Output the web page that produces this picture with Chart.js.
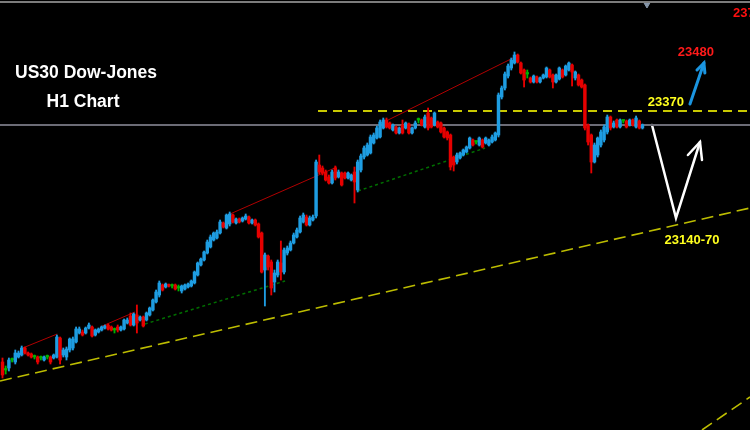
<!DOCTYPE html>
<html><head><meta charset="utf-8">
<script src="https://cdn.jsdelivr.net/npm/chart.js@4.4.1/dist/chart.umd.min.js"></script>
<style>html,body{margin:0;padding:0;background:#000;overflow:hidden}canvas{display:block}</style>
</head><body>
<canvas id="c" width="750" height="430"></canvas>
<script>
// ---- H1 candles (US30) ----
const open=[22868,22852,22856,22872,22868,22878,22882,22896,22886,22884,
22878,22878,22876,22872,22878,22878,22876,22878,22916,22882,
22878,22892,22896,22908,22926,22928,22926,22936,22938,22922,
22928,22932,22936,22942,22938,22932,22938,22932,22934,22946,
22960,22942,22962,22952,22958,22952,22962,22972,22988,
23002,23022,23018,23022,23020,23022,23016,23010,23014,23018,
23020,23026,23042,23062,23072,23086,23098,23112,23116,23126,
23146,23136,23144,23162,23146,23154,23150,23154,23158,23146,
23152,23144,23126,23052,23080,23068,23028,23042,23066,23048,
23086,23092,23106,23118,23128,23148,23158,23142,23152,23160,
23262,23256,23248,23238,23226,23256,23238,23246,23246,23236,
23232,23248,23212,23252,23278,23282,23286,23306,23316,23318,
23336,23352,23346,23332,23338,23326,23342,23336,23344,23326,
23336,23352,23352,23338,23366,23356,23342,23348,23346,23336,
23328,23322,23278,23268,23276,23282,23288,23296,23312,23308,
23302,23312,23306,23302,23308,23312,23322,
23398,23416,23440,23456,23466,23482,23466,23452,23444,23436,
23428,23438,23428,23436,23438,23452,23442,23428,23434,23452,
23442,23452,23462,23436,23442,23432,23422,23342,23322,23268,
23282,23302,23312,23328,23358,23338,23352,23338,23350,23350,
23342,23352,23338,23350,23336];
const high=[22876,22860,22876,22876,22892,22890,22900,22898,22888,22886,
22882,22880,22880,22880,22882,22880,22884,22922,22918,22896,
22898,22916,22918,22938,22938,22932,22938,22946,22940,22934,
22936,22940,22942,22944,22940,22936,22942,22940,22954,22956,
22966,22966,22982,22960,22960,22968,22978,22994,23012,
23030,23024,23026,23024,23024,23024,23022,23022,23024,23026,
23032,23050,23068,23076,23090,23112,23122,23128,23132,23152,
23148,23164,23168,23164,23156,23156,23158,23164,23160,23154,
23154,23146,23128,23086,23082,23072,23052,23072,23110,23096,
23100,23110,23126,23136,23160,23166,23162,23160,23162,23272,
23282,23260,23252,23242,23252,23260,23252,23248,23248,23248,
23244,23258,23272,23284,23300,23306,23322,23326,23340,23352,
23356,23356,23348,23344,23340,23338,23352,23348,23346,23338,
23350,23356,23354,23362,23376,23358,23368,23350,23348,23338,
23330,23324,23280,23286,23288,23294,23300,23318,23314,23310,
23318,23314,23318,23314,23322,23328,23406,
23420,23448,23464,23476,23488,23484,23468,23454,23452,23438,
23442,23440,23438,23444,23458,23454,23444,23444,23458,23454,
23462,23468,23464,23450,23444,23434,23424,23344,23324,23306,
23318,23332,23342,23362,23360,23350,23354,23354,23352,23352,
23354,23354,23360,23352,23344];
const low=[22836,22844,22850,22868,22864,22876,22880,22884,22880,22876,
22874,22864,22872,22870,22874,22864,22874,22876,22864,22878,
22872,22888,22892,22906,22924,22920,22924,22934,22918,22920,
22926,22930,22934,22932,22930,22926,22928,22930,22932,22944,
22940,22940,22926,22950,22938,22950,22960,22970,22986,
22998,23010,23016,23018,23016,23012,23010,23006,23012,23016,
23018,23024,23040,23060,23070,23084,23096,23110,23114,23124,
23136,23134,23140,23146,23144,23146,23148,23152,23144,23144,
23140,23116,23046,22980,23052,23002,23008,23038,23032,23044,
23082,23090,23104,23116,23126,23146,23140,23140,23150,23156,
23244,23242,23230,23224,23224,23232,23236,23220,23234,23234,
23230,23186,23208,23248,23274,23280,23284,23304,23314,23316,
23334,23336,23334,23330,23324,23324,23324,23334,23324,23324,
23334,23346,23340,23336,23332,23336,23340,23336,23326,23316,
23312,23252,23250,23264,23274,23280,23286,23294,23300,23304,
23300,23296,23304,23300,23306,23310,23318,
23394,23412,23436,23452,23464,23466,23444,23418,23436,23426,
23426,23426,23426,23434,23436,23436,23416,23426,23432,23436,
23440,23450,23420,23432,23420,23416,23332,23302,23246,23266,
23278,23298,23308,23324,23332,23336,23336,23336,23346,23336,
23340,23340,23336,23334,23334];
const close=[22842,22852,22872,22872,22886,22886,22896,22886,22882,22878,
22878,22868,22876,22878,22878,22868,22882,22918,22872,22892,
22894,22914,22914,22934,22934,22922,22936,22942,22920,22932,
22934,22938,22940,22934,22932,22932,22932,22938,22952,22952,
22942,22964,22946,22958,22940,22966,22976,22992,23008,
23026,23012,23024,23020,23020,23014,23016,23020,23022,23024,
23030,23048,23066,23074,23088,23108,23118,23126,23128,23148,
23138,23162,23164,23148,23154,23148,23156,23160,23146,23152,
23142,23118,23048,23082,23058,23016,23046,23068,23048,23092,
23096,23106,23122,23132,23156,23162,23142,23156,23158,23268,
23248,23246,23232,23226,23248,23236,23248,23222,23236,23246,
23242,23228,23268,23280,23296,23302,23318,23322,23336,23348,
23352,23338,23336,23342,23326,23336,23326,23346,23326,23336,
23346,23352,23342,23358,23336,23338,23366,23338,23328,23318,
23316,23258,23262,23282,23286,23292,23298,23316,23302,23308,
23316,23298,23316,23312,23318,23326,23402,
23416,23444,23460,23472,23482,23468,23446,23432,23444,23428,
23440,23428,23436,23442,23456,23438,23428,23442,23456,23438,
23460,23466,23448,23448,23422,23418,23336,23308,23268,23302,
23316,23328,23338,23358,23336,23346,23338,23352,23350,23338,
23352,23342,23356,23336,23342];

// ---- drawn analysis objects (bar index, price) ----
const redTrends=[[6.3,22896,17.1,22924],[30.5,22938,41.4,22968],[71.1,23164,104.5,23258],[120.5,23352,160.8,23480]];
const greenTrends=[[44.5,22944,88.3,23030],[111.1,23210,150.8,23296]];
const supportTrend=[-0.78,22830,233.6,23176];
const lowerTrend=[218.6,22732,233.6,22798];
const resistanceLevel=[98.6,23370,233.6,23370];
const currentPrice=23342;
const topBorder=23588;
const whiteArrow=[[202.97,23342],[210.47,23156],[217.97,23308]];
const whiteHead=[[214.2,23282],[217.97,23308],[218.6,23272]];
const blueArrow=[[214.84,23384],[219.2,23466]];
const blueHead=[[217.03,23452],[219.2,23466],[219.5,23446]];
const marker=[201.4,23583];

const X_MIN=-0.78, X_MAX=233.6, Y_MIN=22732, Y_MAX=23592;
const BLUE='#1e9de2', RED='#e60000', GREEN='#00b400';
const colorOf=i=> close[i]>open[i]?BLUE:(close[i]<open[i]?RED:GREEN);

const idx=open.map((_,i)=>i);
const wickData=idx.map(i=>({x:i,y:[low[i],high[i]]}));
const bodyData=idx.map(i=>({x:i,y:[open[i],close[i]]}));

function seg(a,color,width,dash){
  return {type:'line',data:[{x:a[0],y:a[1]},{x:a[2],y:a[3]}],borderColor:color,borderWidth:width,
    borderDash:dash||[],pointRadius:0,fill:false,tension:0,order:3};
}
function poly(pts,color,width){
  return {type:'line',data:pts.map(p=>({x:p[0],y:p[1]})),borderColor:color,borderWidth:width,
    pointRadius:0,fill:false,tension:0,order:3,borderCapStyle:'round',borderJoinStyle:'miter'};
}
const datasets=[
  {type:'bar',data:bodyData,backgroundColor:c=>colorOf(c.dataIndex),barThickness:2.8,minBarLength:1.5,grouped:false,order:0},
  {type:'bar',data:wickData,backgroundColor:c=>colorOf(c.dataIndex),barThickness:1.2,grouped:false,order:1},
  seg([X_MIN,currentPrice,X_MAX,currentPrice],'#6c6c76',2),
  seg([X_MIN,topBorder,X_MAX,topBorder],'#7c7c7c',2),
  seg(resistanceLevel,'#c8c800',1.8,[9,6]),
  seg(supportTrend,'#bcbc00',1.6,[12,6]),
  seg(lowerTrend,'#bcbc00',1.6,[12,6]),
  ...redTrends.map(t=>seg(t,'#b00000',1)),
  ...greenTrends.map(t=>seg(t,'#006e00',1.5,[3,3])),
  poly(whiteArrow,'#ffffff',2.5),
  poly(whiteHead,'#ffffff',2.5),
  poly(blueArrow,'#1b95e0',3),
  poly(blueHead,'#1b95e0',3),
  {type:'line',data:[{x:marker[0],y:marker[1]}],showLine:false,pointStyle:'triangle',rotation:180,pointRadius:3.5,
   pointBackgroundColor:'#8595a8',pointBorderColor:'#8595a8',order:3}
];

const texts=[
  {t:'23480',x:216.7,y:23488,c:'#ff1a1a',f:'bold 13px "Liberation Sans", Arial, sans-serif',a:'center'},
  {t:'23370',x:207.3,y:23388,c:'#ffff1e',f:'bold 13px "Liberation Sans", Arial, sans-serif',a:'center'},
  {t:'23140-70',x:215.5,y:23112,c:'#ffff1e',f:'bold 13px "Liberation Sans", Arial, sans-serif',a:'center'},
  {t:'2370',x:228.3,y:23566,c:'#ff1010',f:'bold 13px "Liberation Sans", Arial, sans-serif',a:'left'}
];
const annot={id:'annot',afterDatasetsDraw(ch){
  const g=ch.ctx,xs=ch.scales.x,ys=ch.scales.y;
  g.save();g.textBaseline='middle';
  texts.forEach(o=>{g.font=o.f;g.fillStyle=o.c;g.textAlign=o.a;g.fillText(o.t,xs.getPixelForValue(o.x),ys.getPixelForValue(o.y));});
  g.fillStyle='#ffffff';g.font='bold 17.5px "Liberation Sans", Arial, sans-serif';g.textAlign='center';
  g.fillText('US30 Dow-Jones',86,73);
  g.fillText('H1 Chart',83,102);
  g.restore();
}};

new Chart(document.getElementById('c'),{
  type:'bar',
  data:{datasets},
  options:{
    responsive:false,devicePixelRatio:1,animation:false,events:[],
    layout:{padding:0,autoPadding:false},
    elements:{bar:{borderWidth:0}},
    plugins:{legend:{display:false},tooltip:{enabled:false},title:{display:false}},
    scales:{
      x:{type:'linear',min:X_MIN,max:X_MAX,offset:false,display:false,grid:{display:false}},
      y:{type:'linear',min:Y_MIN,max:Y_MAX,display:false,grid:{display:false}}
    }
  },
  plugins:[annot]
});
</script>
</body></html>
